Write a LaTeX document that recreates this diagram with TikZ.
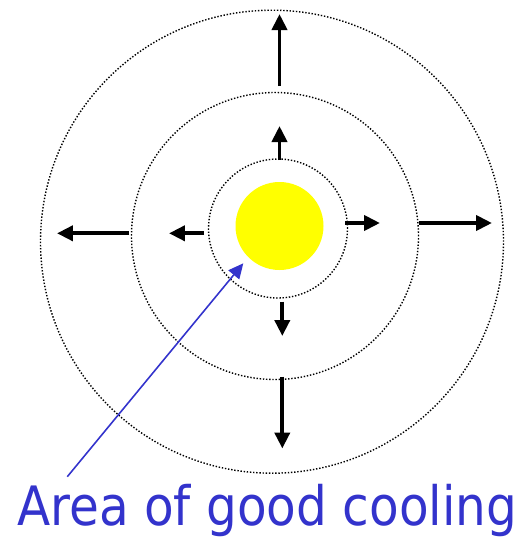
\documentclass[tikz,border=0pt]{standalone}
\usepackage{fontspec}
\usepackage{xcolor}
\usetikzlibrary{arrows.meta,positioning}
\newfontfamily\labelfont{DejaVu Sans}
\definecolor{coolblue}{RGB}{51,51,204}
\definecolor{sunyellow}{RGB}{255,255,0}

\begin{document}
\begin{tikzpicture}[x=0.02cm,y=-0.02cm,
  ring/.style={draw,circle,inner sep=0pt,line width=0.8pt,dash pattern=on 0.8pt off 1.0pt},
  flow/.style={-{Triangle[length=0.32cm,width=0.3cm]},line width=2.2pt},
  pointer/.style={-{Triangle[length=0.3cm,width=0.28cm]},line width=0.9pt,draw=coolblue,fill=coolblue}]
  \useasboundingbox (0,0) rectangle (515,538);
  \node[circle,fill=sunyellow,minimum size=88*0.02cm,inner sep=0pt] (core) at (279.5,226) {};
  \node[ring,minimum size=139*0.02cm] (inner) at (278,228.5) {};
  \node[ring,minimum size=287*0.02cm] (middle) at (275,236) {};
  \node[ring,minimum size=463*0.02cm] (outer) at (272,241.7) {};
  % arrows between the rings
  \coordinate (u1) at (279.5,160);   \coordinate (u1e) at (279.5,126);
  \coordinate (u2) at (279.5,86);    \coordinate (u2e) at (279.5,14);
  \coordinate (l1) at (204,233.3);   \coordinate (l1e) at (169,233.3);
  \coordinate (l2) at (129,233.3);   \coordinate (l2e) at (57,233.3);
  \coordinate (r1) at (345,223);     \coordinate (r1e) at (380,223);
  \coordinate (r2) at (419,223);     \coordinate (r2e) at (492,223);
  \coordinate (d1) at (282.3,301.7); \coordinate (d1e) at (282.3,336);
  \coordinate (d2) at (282.3,376.7); \coordinate (d2e) at (282.3,448.5);
  \draw[flow] (u1) -- (u1e);
  \draw[flow] (u2) -- (u2e);
  \draw[flow] (l1) -- (l1e);
  \draw[flow] (l2) -- (l2e);
  \draw[flow] (r1) -- (r1e);
  \draw[flow] (r2) -- (r2e);
  \draw[flow] (d1) -- (d1e);
  \draw[flow] (d2) -- (d2e);
  \node[anchor=base west,inner sep=0pt,yscale=1.12,text=coolblue,font=\labelfont\fontsize{27.6}{28}\selectfont] (lbl) at (17,525) {Area of good cooling};
  \coordinate (tail) at (67.3,476.7);
  \coordinate (tip) at (243.3,263.3);
  \draw[pointer] (tail) -- (tip);
\end{tikzpicture}
\end{document}
